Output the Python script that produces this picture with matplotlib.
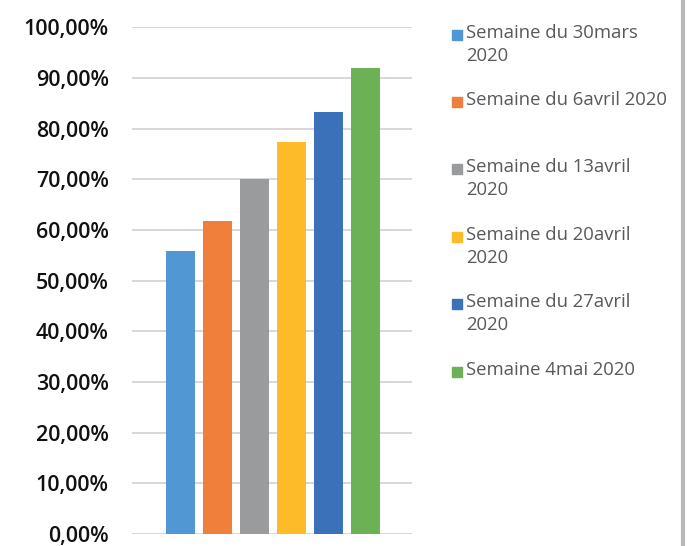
import matplotlib.pyplot as plt
from matplotlib.patches import Rectangle

# data
weeks = [
    "Semaine du 30mars\n2020",
    "Semaine du 6avril 2020",
    "Semaine du 13avril\n2020",
    "Semaine du 20avril\n2020",
    "Semaine du 27avril\n2020",
    "Semaine 4mai 2020",
]
values = [55.8, 61.8, 70.0, 77.3, 83.2, 92.0]
colors = ["#5197d3", "#f07f3c", "#9a9b9c", "#fcbb27", "#3a71b9", "#6cb155"]
yticks = [0, 10, 20, 30, 40, 50, 60, 70, 80, 90, 100]
ytick_labels = ["0,00%", "10,00%", "20,00%", "30,00%", "40,00%", "50,00%",
                "60,00%", "70,00%", "80,00%", "90,00%", "100,00%"]

plt.rcParams["font.family"] = ["Open Sans", "DejaVu Sans"]

fig = plt.figure(figsize=(6.89, 5.46), dpi=100)
ax = fig.add_axes([0.192, 0.022, 0.406, 0.928])

x = list(range(len(values)))
ax.bar(x, values, width=0.78, color=colors, zorder=3)

ax.set_xlim(-1.3, 6.26)
ax.set_ylim(0, 100)
ax.set_yticks(yticks)
ax.set_yticklabels(ytick_labels, fontsize=15.5, color="#111111", fontweight="semibold")
ax.set_xticks([])
ax.yaxis.grid(True, color="#d4d4d4", linewidth=1.3, zorder=0)
ax.tick_params(axis="y", length=0, pad=17)
for s in ax.spines.values():
    s.set_visible(False)

# legend drawn by hand to keep the uneven spacing of the original
leg_y = [35, 102, 169, 237, 304, 372]
for lab, col, yp in zip(weeks, colors, leg_y):
    fig.patches.append(Rectangle((452 / 689, 1 - (yp + 5) / 546), 10 / 689, 10 / 546,
                                 transform=fig.transFigure, color=col))
    fig.text(466 / 689, 1 - (yp - 11) / 546, lab, fontsize=13.3, color="#595959",
             va="top", ha="left", linespacing=1.35)

# right border line
fig.add_artist(plt.Line2D([683 / 689, 683 / 689], [0, 1], color="#b8b8b8", linewidth=3))

fig.savefig("out.png", dpi=100)
